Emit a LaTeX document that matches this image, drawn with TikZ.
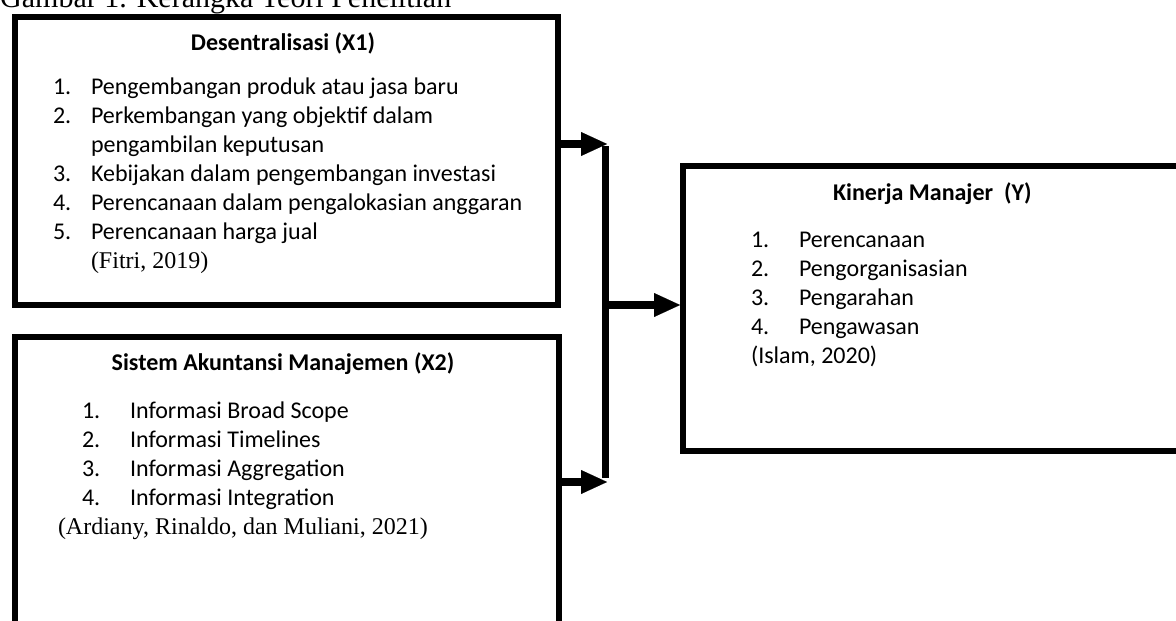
\documentclass[tikz,border=0pt]{standalone}
\usepackage{fontspec}
\setmainfont{Carlito}
\newfontfamily\tnr{Liberation Serif}
\usetikzlibrary{arrows.meta}
\tikzset{
  boxframe/.style={draw=black, line width=6pt, fill=none},
  txt/.style={inner sep=0pt, outer sep=0pt, anchor=base west, font=\fontsize{24}{29}\selectfont},
  ttl/.style={inner sep=0pt, outer sep=0pt, anchor=base, font=\fontsize{24}{29}\selectfont\bfseries},
  cite/.style={inner sep=0pt, outer sep=0pt, anchor=base west, font=\fontsize{24}{29}\selectfont\tnr},
  barline/.style={line width=7pt, line cap=butt},
  fatarrow/.style={line width=8pt, -{Triangle[length=26pt,width=24pt,line width=0.1pt]}}
}
\begin{document}
\begin{tikzpicture}[x=1pt,y=-1pt]
\useasboundingbox (0,0) rectangle (1176,621);
\clip (0,0) rectangle (1176,621);
% header (cut off at top)
\node[inner sep=0pt, anchor=base west, font=\fontsize{30}{36}\selectfont\tnr] (hdr) at (0,8) {Gambar 1. Kerangka Teori Penelitian};
% boxes
\node[boxframe, inner sep=0pt, minimum width=543pt, minimum height=288pt, anchor=north west] (box1) at (12,14) {};
\node[boxframe, inner sep=0pt, minimum width=544pt, minimum height=306pt, anchor=north west] (box2) at (12,334) {};
\node[boxframe, inner sep=0pt, minimum width=510pt, minimum height=285pt, anchor=north west] (box3) at (680,163) {};
% box1 text
\node[ttl] (t1) at (283,50) {Desentralisasi (X1)};
\node[txt] (n11) at (53,94) {1.};
\node[txt] (i11) at (91,94) {Pengembangan produk atau jasa baru};
\node[txt] (n12) at (53,123) {2.};
\node[txt] (i12) at (91,123) {Perkembangan yang objektif dalam};
\node[txt] (i12b) at (91,152) {pengambilan keputusan};
\node[txt] (n13) at (53,181) {3.};
\node[txt] (i13) at (91,181) {Kebijakan dalam pengembangan investasi};
\node[txt] (n14) at (53,210) {4.};
\node[txt] (i14) at (91,210) {Perencanaan dalam pengalokasian anggaran};
\node[txt] (n15) at (53,239) {5.};
\node[txt] (i15) at (91,239) {Perencanaan harga jual};
\node[cite] (c1) at (91,268) {(Fitri, 2019)};
% box2 text
\node[ttl] (t2) at (283,370) {Sistem Akuntansi Manajemen (X2)};
\node[txt] (n21) at (82,418) {1.};
\node[txt] (i21) at (130,418) {Informasi Broad Scope};
\node[txt] (n22) at (82,447) {2.};
\node[txt] (i22) at (130,447) {Informasi Timelines};
\node[txt] (n23) at (82,476) {3.};
\node[txt] (i23) at (130,476) {Informasi Aggregation};
\node[txt] (n24) at (82,505) {4.};
\node[txt] (i24) at (130,505) {Informasi Integration};
\node[cite] (c2) at (58,534) {(Ardiany, Rinaldo, dan Muliani, 2021)};
% box3 text
\node[ttl, anchor=base west] (t3) at (833,200) {Kinerja Manajer\ \ (Y)};
\node[txt] (n31) at (751,247) {1.};
\node[txt] (i31) at (799,247) {Perencanaan};
\node[txt] (n32) at (751,276) {2.};
\node[txt] (i32) at (799,276) {Pengorganisasian};
\node[txt] (n33) at (751,305) {3.};
\node[txt] (i33) at (799,305) {Pengarahan};
\node[txt] (n34) at (751,334) {4.};
\node[txt] (i34) at (799,334) {Pengawasan};
\node[txt] (c3) at (751,363) {(Islam, 2020)};
% connectors
\coordinate (bt) at (605,144);
\coordinate (bm) at (605,305);
\coordinate (bb) at (605,482);
\draw[barline] ([yshift=-2pt]bt) -- ([yshift=4pt]bb);
\draw[fatarrow] (box1.east |- bt) -- ([xshift=2pt]bt);
\draw[fatarrow] (box2.east |- bb) -- ([xshift=2pt]bb);
\draw[fatarrow] ([xshift=3pt]bm) -- (box3.west |- bm);
\end{tikzpicture}
\end{document}
